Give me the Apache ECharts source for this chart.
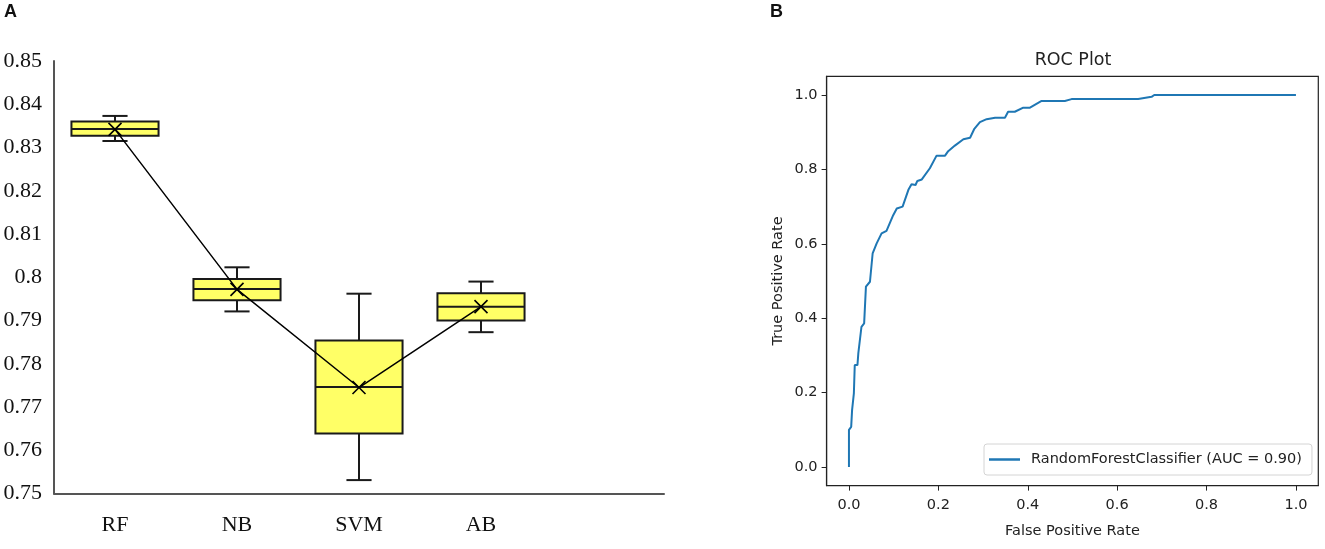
<!DOCTYPE html>
<html>
<head>
<meta charset="utf-8">
<script src="https://cdn.jsdelivr.net/npm/echarts@6/dist/echarts.min.js"></script>
<style>
  html, body { margin: 0; padding: 0; background: #fff; }
  #chart { width: 1325px; height: 549px; }
</style>
</head>
<body>
<div id="chart"></div>
<script>
// panel A: box plots of accuracy per model
const models = ['RF', 'NB', 'SVM', 'AB']
const whiskerLow = [0.8315, 0.7921, 0.7531, 0.7873]
const q1 = [0.8327, 0.7947, 0.7639, 0.7900]
const median = [0.8343, 0.7973, 0.7746, 0.7932]
const q3 = [0.8360, 0.7996, 0.7854, 0.7963]
const whiskerHigh = [0.8373, 0.8023, 0.7962, 0.7990]
const mean = [0.8342, 0.7972, 0.7745, 0.7932]

// panel B: ROC curve
const fpr = [0, 0, 0.005, 0.007, 0.011, 0.013, 0.019, 0.021, 0.028, 0.034,
    0.038, 0.047, 0.053, 0.062, 0.073, 0.084, 0.099, 0.107, 0.120, 0.133,
    0.140, 0.149, 0.153, 0.163, 0.181, 0.196, 0.215, 0.222, 0.237, 0.256,
    0.271, 0.280, 0.293, 0.308, 0.327, 0.349, 0.356, 0.371, 0.390, 0.405,
    0.431, 0.483, 0.498, 0.647, 0.677, 0.683, 1.0]
const tpr = [0, 0.10, 0.108, 0.153, 0.198, 0.274, 0.274, 0.306, 0.377, 0.386,
    0.485, 0.498, 0.574, 0.601, 0.628, 0.635, 0.677, 0.695, 0.700, 0.745,
    0.760, 0.758, 0.769, 0.773, 0.803, 0.837, 0.837, 0.849, 0.864, 0.881,
    0.885, 0.908, 0.927, 0.935, 0.939, 0.939, 0.955, 0.955, 0.966, 0.966,
    0.984, 0.984, 0.989, 0.989, 0.995, 1.0, 1.0]
const rocTicks = [0, 0.2, 0.4, 0.6, 0.8, 1.0]
const rocName = 'RandomForestClassifier (AUC = 0.90)'

const boxRows = models.map((m, i) => [i, whiskerLow[i], q1[i], median[i], q3[i], whiskerHigh[i]])
const meanRows = models.map((m, i) => [i, mean[i]])
const rocRows = fpr.map((x, i) => [x, tpr[i]])

const serif = 'Liberation Serif'
const sans = 'DejaVu Sans'

function renderBox(params, api) {
    const idx = api.value(0)
    const lo = api.coord([idx, api.value(1)])
    const b1 = api.coord([idx, api.value(2)])
    const md = api.coord([idx, api.value(3)])
    const b3 = api.coord([idx, api.value(4)])
    const hi = api.coord([idx, api.value(5)])
    const band = api.size([1, 0])[0]
    const half = band * 0.357
    const cap = band * 0.103
    const x = lo[0]
    const ln = {stroke: '#1a1a1a', lineWidth: 2}
    return {
        type: 'group',
        children: [
            {type: 'line', shape: {x1: x, y1: hi[1], x2: x, y2: b3[1]}, style: ln},
            {type: 'line', shape: {x1: x, y1: b1[1], x2: x, y2: lo[1]}, style: ln},
            {type: 'line', shape: {x1: x - cap, y1: hi[1], x2: x + cap, y2: hi[1]}, style: ln},
            {type: 'line', shape: {x1: x - cap, y1: lo[1], x2: x + cap, y2: lo[1]}, style: ln},
            {
                type: 'rect',
                shape: {x: x - half, y: b3[1], width: half * 2, height: b1[1] - b3[1]},
                style: {fill: '#ffff66', stroke: '#1a1a1a', lineWidth: 2}
            },
            {type: 'line', shape: {x1: x - half, y1: md[1], x2: x + half, y2: md[1]}, style: ln}
        ]
    }
}

const chart = echarts.init(document.getElementById('chart'), null, {renderer: 'canvas'})
chart.setOption({
    animation: false,
    backgroundColor: '#fff',
    graphic: [
        {type: 'text', left: 4, top: 3, style: {text: 'A', font: 'bold 18px "Liberation Sans"', fill: '#111'}},
        {type: 'text', left: 770, top: 3, style: {text: 'B', font: 'bold 18px "Liberation Sans"', fill: '#111'}},
        {
            type: 'text', x: 1073, y: 60,
            style: {text: 'ROC Plot', font: '17.5px "DejaVu Sans"', fill: '#222', align: 'center', verticalAlign: 'middle'}
        }
    ],
    grid: [
        {left: 54, top: 61, width: 610, height: 432.5},
        {
            left: 826.6, top: 76.4, width: 491.7, height: 409.2,
            show: true, borderColor: '#222', borderWidth: 1.2, backgroundColor: 'transparent'
        }
    ],
    legend: {
        data: [{name: rocName, icon: 'rect'}],
        left: 984, top: 444,
        padding: [8, 10, 8, 5],
        itemWidth: 31, itemHeight: 2.5,
        backgroundColor: '#fff',
        borderColor: '#d4d4d4', borderWidth: 1, borderRadius: 3,
        textStyle: {fontFamily: sans, fontSize: 14.5, color: '#222', padding: [0, 0, 0, 6]}
    },
    xAxis: [
        {
            type: 'category', gridIndex: 0,
            data: [...models, ''],
            axisLine: {lineStyle: {color: '#555', width: 2}},
            axisTick: {show: false},
            axisLabel: {fontFamily: serif, fontSize: 22, color: '#111', margin: 21}
        },
        {
            type: 'value', gridIndex: 1, min: -0.05, max: 1.05,
            splitLine: {show: false},
            axisLine: {onZero: false, lineStyle: {color: '#222', width: 1.2}},
            axisTick: {show: true, length: 5, customValues: rocTicks, lineStyle: {color: '#222'}},
            axisLabel: {customValues: rocTicks, fontFamily: sans, fontSize: 14.5, color: '#222', margin: 12,
                formatter: v => v.toFixed(1)},
            name: 'False Positive Rate', nameLocation: 'middle', nameGap: 38,
            nameTextStyle: {fontFamily: sans, fontSize: 14.5, color: '#222'}
        }
    ],
    yAxis: [
        {
            type: 'value', gridIndex: 0, min: 0.75, max: 0.85, interval: 0.01,
            splitLine: {show: false},
            axisLine: {show: true, lineStyle: {color: '#555', width: 2}},
            axisTick: {show: false},
            axisLabel: {fontFamily: serif, fontSize: 22, color: '#111', margin: 12}
        },
        {
            type: 'value', gridIndex: 1, min: -0.05, max: 1.05,
            splitLine: {show: false},
            axisLine: {show: true, onZero: false, lineStyle: {color: '#222', width: 1.2}},
            axisTick: {show: true, length: 5, customValues: rocTicks, lineStyle: {color: '#222'}},
            axisLabel: {customValues: rocTicks, fontFamily: sans, fontSize: 14.5, color: '#222', margin: 9,
                formatter: v => v.toFixed(1)},
            name: 'True Positive Rate', nameLocation: 'middle', nameGap: 41,
            nameTextStyle: {fontFamily: sans, fontSize: 14.5, color: '#222'}
        }
    ],
    series: [
        {
            type: 'custom', xAxisIndex: 0, yAxisIndex: 0,
            renderItem: renderBox,
            encode: {x: 0, y: [1, 2, 3, 4, 5]},
            data: boxRows,
            z: 2
        },
        {
            type: 'line', xAxisIndex: 0, yAxisIndex: 0,
            data: meanRows,
            symbol: 'path://M0,0L10,10M10,0L0,10',
            symbolSize: 13,
            itemStyle: {color: 'transparent', borderColor: '#000', borderWidth: 1.6},
            lineStyle: {color: '#000', width: 1.5},
            z: 3
        },
        {
            type: 'line', name: rocName, xAxisIndex: 1, yAxisIndex: 1,
            data: rocRows,
            symbol: 'none',
            color: '#1f77b4',
            lineStyle: {color: '#1f77b4', width: 2}
        }
    ]
})
</script>
</body>
</html>
